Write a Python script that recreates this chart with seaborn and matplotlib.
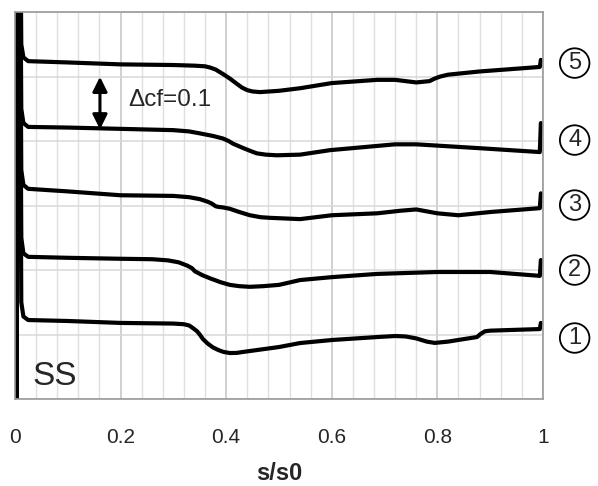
import pandas as pd
import matplotlib
matplotlib.use("Agg")
import matplotlib.pyplot as plt
from matplotlib.ticker import MultipleLocator, FuncFormatter
import seaborn as sns

# curve 1 (bottom) ... curve 5 (top)
x1 = [0.003, 0.006, 0.012, 0.016, 0.025, 0.1, 0.2, 0.3, 0.32, 0.33, 0.337, 0.345, 0.35, 0.356, 0.365,
      0.375, 0.385, 0.395, 0.407, 0.42, 0.432, 0.5, 0.54, 0.6, 0.686, 0.72, 0.74, 0.76, 0.78, 0.795,
      0.82, 0.843, 0.875, 0.882, 0.89, 0.9, 0.994, 0.996]
y1 = [-0.1, 1.2, 0.15, 0.128, 0.1225, 0.121, 0.118, 0.117, 0.116, 0.114, 0.110, 0.105, 0.100, 0.093, 0.086,
      0.080, 0.076, 0.073, 0.0713, 0.0715, 0.073, 0.0806, 0.0868, 0.0915, 0.0961, 0.0977, 0.097, 0.094, 0.089, 0.087,
      0.089, 0.092, 0.0961, 0.101, 0.105, 0.106, 0.1085, 0.118]

x2 = [0.003, 0.006, 0.012, 0.016, 0.025, 0.1, 0.2, 0.26, 0.29, 0.31, 0.326, 0.335, 0.341, 0.355, 0.37,
      0.39, 0.407, 0.425, 0.445, 0.47, 0.5, 0.54, 0.6, 0.686, 0.8, 0.9, 0.994, 0.996]
y2 = [-0.1, 1.2, 0.25, 0.226, 0.2205, 0.219, 0.2175, 0.2168, 0.215, 0.212, 0.207, 0.203, 0.198, 0.192, 0.187,
      0.181, 0.177, 0.175, 0.174, 0.175, 0.177, 0.1845, 0.189, 0.194, 0.197, 0.197, 0.191, 0.2155]

x3 = [0.003, 0.006, 0.012, 0.016, 0.025, 0.1, 0.2, 0.3, 0.33, 0.35, 0.365, 0.373, 0.38, 0.385, 0.395,
      0.407, 0.425, 0.445, 0.465, 0.483, 0.54, 0.6, 0.686, 0.73, 0.76, 0.78, 0.8, 0.84, 0.9, 0.994, 0.996]
y3 = [-0.1, 1.2, 0.355, 0.332, 0.326, 0.322, 0.316, 0.315, 0.313, 0.310, 0.306, 0.303, 0.299, 0.298, 0.297,
      0.295, 0.290, 0.285, 0.282, 0.281, 0.279, 0.285, 0.288, 0.292, 0.294, 0.291, 0.288, 0.285, 0.29, 0.296, 0.319]

x4 = [0.003, 0.006, 0.012, 0.016, 0.025, 0.1, 0.2, 0.3, 0.33, 0.35, 0.375, 0.394, 0.405, 0.413, 0.43,
      0.445, 0.458, 0.475, 0.496, 0.54, 0.597, 0.72, 0.76, 0.8, 0.88, 0.994, 0.996]
y4 = [-0.1, 1.2, 0.45, 0.428, 0.422, 0.421, 0.419, 0.417, 0.415, 0.412, 0.408, 0.404, 0.400, 0.396, 0.390,
      0.385, 0.381, 0.379, 0.378, 0.379, 0.386, 0.395, 0.395, 0.393, 0.389, 0.383, 0.428]

x5 = [0.003, 0.006, 0.012, 0.016, 0.025, 0.1, 0.2, 0.3, 0.34, 0.36, 0.37, 0.38, 0.388, 0.398, 0.407, 0.42,
      0.43, 0.44, 0.45, 0.464, 0.5, 0.54, 0.6, 0.686, 0.72, 0.76, 0.785, 0.795, 0.805, 0.82, 0.88, 0.994, 0.996]
y5 = [-0.1, 1.2, 0.55, 0.53, 0.524, 0.522, 0.519, 0.518, 0.517, 0.516, 0.514, 0.511, 0.507, 0.502, 0.497, 0.489,
      0.483, 0.479, 0.477, 0.476, 0.478, 0.482, 0.490, 0.495, 0.495, 0.491, 0.493, 0.497, 0.500, 0.503, 0.508, 0.515, 0.526]

curve_names = ["1", "2", "3", "4", "5"]
label_y = [0.0946, 0.2, 0.3008, 0.4016, 0.521]

frames = []
for name, xs, ys in zip(curve_names, [x1, x2, x3, x4, x5], [y1, y2, y3, y4, y5]):
    frames.append(pd.DataFrame({"s": xs, "cf": ys, "curve": name}))
df = pd.concat(frames, ignore_index=True)

sns.set_style("white")
plt.rcParams["font.family"] = ["Liberation Sans", "DejaVu Sans"]

fig = plt.figure(figsize=(5.98, 4.86), dpi=100)
ax = fig.add_axes([0.025, 0.179, 0.883, 0.796])

sns.lineplot(data=df, x="s", y="cf", hue="curve", palette=["black"] * 5,
             estimator=None, sort=False, legend=False, lw=3.0, ax=ax)

ax.set_xlim(0, 1)
ax.set_ylim(0, 0.6)
ax.xaxis.set_major_locator(MultipleLocator(0.2))
ax.xaxis.set_minor_locator(MultipleLocator(0.04))
ax.yaxis.set_major_locator(MultipleLocator(0.1))
ax.xaxis.set_major_formatter(FuncFormatter(lambda v, p: "%g" % round(v, 2)))
ax.set_yticklabels([])
ax.grid(which="minor", axis="x", color="#e0e0e0", lw=1)
ax.grid(which="major", axis="x", color="#c4c4c4", lw=1.1)
ax.grid(which="major", axis="y", color="#d8d8d8", lw=1.1)
ax.set_axisbelow(True)
ax.tick_params(axis="x", which="major", length=6, width=1.2, color="#999999",
               labelsize=15, pad=15)
ax.tick_params(axis="x", which="minor", length=0)
ax.tick_params(axis="y", length=0)
for sp in ax.spines.values():
    sp.set_color("#999999")
    sp.set_linewidth(1.2)

ax.set_xlabel("s/s0", fontsize=17, fontweight="bold", labelpad=11)
ax.set_ylabel("")

ax.text(0.034, 0.022, "SS", fontsize=24, ha="left", va="baseline")
ax.text(0.214, 0.4636, "\u0394cf=0.1", fontsize=17.5, ha="left", va="center")
ax.annotate("", xy=(0.161, 0.504), xytext=(0.161, 0.414),
            arrowprops=dict(arrowstyle="<|-|>", color="black", lw=2.2, mutation_scale=22))

for name, ly in zip(curve_names, label_y):
    ax.text(1.06, ly, name, fontsize=17, ha="center", va="center", clip_on=False,
            bbox=dict(boxstyle="circle,pad=0.16", fc="white", ec="black", lw=1.3))

fig.savefig("out.png", dpi=100)
